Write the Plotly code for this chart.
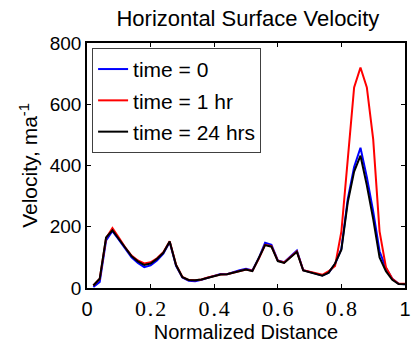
import plotly.graph_objects as go

x = [0.02, 0.04, 0.06, 0.08, 0.10, 0.12, 0.14, 0.16, 0.18, 0.20,
     0.22, 0.24, 0.26, 0.28, 0.30, 0.32, 0.34, 0.36, 0.38, 0.40,
     0.42, 0.44, 0.46, 0.48, 0.50, 0.52, 0.54, 0.56, 0.58, 0.60,
     0.62, 0.64, 0.66, 0.68, 0.70, 0.72, 0.74, 0.76, 0.78, 0.80,
     0.82, 0.84, 0.86, 0.88, 0.90, 0.92, 0.94, 0.96, 0.98, 1.00]

v_t0 = [3, 20, 155, 186, 158, 128, 100, 82, 68, 74,
        90, 112, 150, 72, 34, 24, 22, 27, 34, 41,
        46, 45, 52, 58, 63, 57, 97, 148, 141, 90,
        84, 103, 122, 58, 53, 48, 41, 50, 78, 128,
        290, 395, 458, 362, 250, 120, 65, 30, 14, 12]

v_1hr = [8, 30, 163, 196, 165, 133, 106, 90, 80, 84,
         97, 117, 153, 76, 36, 26, 25, 28, 34, 40,
         44, 45, 50, 55, 60, 56, 95, 141, 137, 89,
         83, 101, 119, 58, 53, 48, 43, 55, 72, 185,
         430, 655, 720, 655, 485, 185, 68, 30, 14, 14]

v_24hr = [8, 30, 165, 188, 160, 130, 104, 87, 75, 80,
          95, 115, 152, 75, 35, 26, 25, 28, 34, 40,
          44, 45, 50, 55, 60, 55, 95, 140, 135, 88,
          82, 100, 118, 57, 52, 47, 40, 50, 80, 125,
          280, 380, 432, 335, 225, 100, 55, 27, 13, 12]

names = ["time = 0", "time = 1 hr", "time = 24 hrs"]
colors = ["#0000ff", "#ff0000", "#000000"]

sans = "font-family:Liberation Sans,Arial,sans-serif;font-size:20px"
xtick_vals = [0, 0.2, 0.4, 0.6, 0.8, 1]
xtick_text = [f"<span style=\"{sans}\">0</span>",
              "0\u200a.\u200a2", "0\u200a.\u200a4", "0\u200a.\u200a6", "0\u200a.\u200a8",
              f"<span style=\"{sans}\">1</span>"]
ytick_vals = [0, 200, 400, 600, 800]

fig = go.Figure()
for i, (ys, nm, c) in enumerate(zip([v_t0, v_1hr, v_24hr], names, colors)):
    fig.add_trace(go.Scatter(x=x, y=ys, mode="lines", name=nm,
                             line=dict(color=c, width=2),
                             legendgroup=str(i)))

font = "Liberation Sans, Arial, sans-serif"
fig.update_layout(
    width=416, height=345,
    margin=dict(l=87, r=5, t=43, b=56),
    paper_bgcolor="white", plot_bgcolor="white",
    font=dict(family=font, size=19, color="black"),
    title=dict(text="Horizontal Surface Velocity", x=0.596, xanchor="center",
               y=0.948, yanchor="middle", font=dict(size=22)),
    showlegend=True,
    legend=dict(x=0.016, y=0.98, xanchor="left", yanchor="top",
                bgcolor="white", bordercolor="#404040", borderwidth=1,
                font=dict(size=21), traceorder="grouped", tracegroupgap=1),
    xaxis=dict(range=[0, 1], tickvals=xtick_vals, ticktext=xtick_text,
               tickfont=dict(family="Liberation Serif, Times New Roman, serif",
                             size=22),
               ticklabeloverflow="allow",
               showgrid=False, zeroline=False, showline=True, linecolor="black",
               linewidth=1.5, mirror="all", ticks="inside", ticklen=4,
               tickcolor="black",
               title=dict(text="Normalized Distance", standoff=5,
                          font=dict(family=font, size=20))),
    yaxis=dict(range=[0, 800], tickvals=ytick_vals,
               showgrid=False, zeroline=False, showline=True, linecolor="black",
               linewidth=1.5, mirror="all", ticks="inside", ticklen=4,
               tickcolor="black", automargin=False,
               title=dict(text="Velocity, ma<sup>-1</sup>", standoff=6,
                          font=dict(size=21))),
)

fig.write_html("out.html")
